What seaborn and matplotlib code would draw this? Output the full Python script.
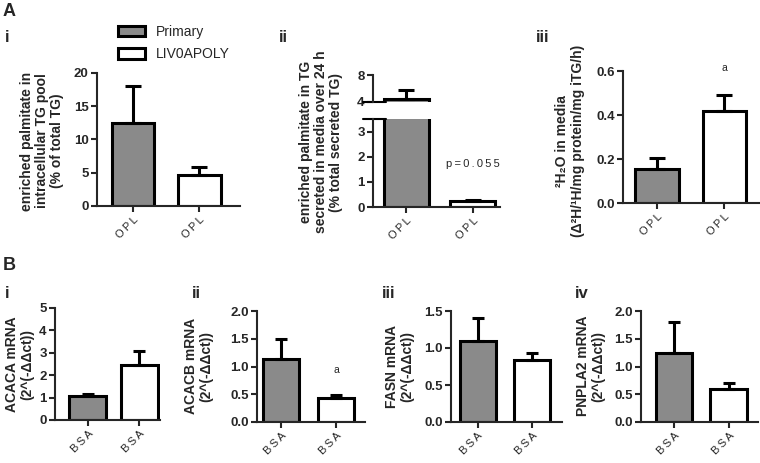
import numpy as np
import matplotlib
matplotlib.use("Agg")
import matplotlib.pyplot as plt
import seaborn as sns

groups = ["Primary", "LIV0APOLY"]
colors = ["#8a8a8a", "white"]

# panel A
a1_mean = [12.5, 4.7]
a1_err = [5.5, 1.1]
a2_mean = [4.5, 0.25]
a2_err = [1.35, 0.03]
a3_mean = [0.155, 0.42]
a3_err = [0.05, 0.07]
a_ticks = ["OPL", "OPL"]

# panel B
acaca_mean = [1.05, 2.45]
acaca_err = [0.12, 0.65]
acacb_mean = [1.13, 0.44]
acacb_err = [0.37, 0.04]
fasn_mean = [1.10, 0.84]
fasn_err = [0.30, 0.09]
pnpla2_mean = [1.25, 0.60]
pnpla2_err = [0.55, 0.10]
b_ticks = ["BSA", "BSA"]

sns.set_style("ticks")
plt.rcParams["font.family"] = ["Liberation Sans", "DejaVu Sans"]
plt.rcParams["axes.linewidth"] = 1.5

W, H = 760, 463
fig = plt.figure(figsize=(W / 100, H / 100), dpi=100)


def make_ax(left, right, top, bottom):
    return fig.add_axes([left / W, 1 - bottom / H, (right - left) / W, (bottom - top) / H])


def spaced(s):
    return "\u2009".join(s)


def draw_bars(ax, mean, err, width, capsize, xlim, ylim, yticks, ticklabels, fmt="{:g}"):
    sns.barplot(x=groups, y=mean, hue=groups, palette=colors, order=groups,
                hue_order=groups, edgecolor="black", linewidth=2.2, width=width,
                legend=False, ax=ax)
    ax.errorbar([0, 1], mean, yerr=[[0, 0], err], fmt="none", ecolor="black",
                elinewidth=2.2, capsize=capsize, capthick=2.2, zorder=1)
    ax.set_xlim(*xlim)
    ax.set_ylim(*ylim)
    ax.set_yticks(yticks)
    ax.set_yticklabels([fmt.format(v) for v in yticks], fontweight="bold", fontsize=9.5)
    ax.set_xticks([0, 1])
    ax.set_xticklabels([spaced(t) for t in ticklabels], rotation=45, ha="right",
                       rotation_mode="anchor", fontsize=8)
    ax.set_xlabel("")
    ax.set_ylabel("")
    ax.tick_params(direction="out", length=4, width=1.5, pad=2)
    sns.despine(ax=ax)


# A i
ax1 = make_ax(97, 240, 73, 206)
draw_bars(ax1, a1_mean, a1_err, 0.65, 6, (-0.545, 1.62), (0, 20), [0, 5, 10, 15, 20], a_ticks)

# A ii (broken axis)
ax2u = make_ax(373, 500, 75, 102)
ax2l = make_ax(373, 500, 119, 207)
draw_bars(ax2u, a2_mean, a2_err, 0.67, 6, (-0.5, 1.41), (4, 8), [4, 8], a_ticks)
draw_bars(ax2l, a2_mean, a2_err, 0.67, 6, (-0.5, 1.41), (0, 3.5), [0, 1, 2, 3], a_ticks)
ax2u.spines["bottom"].set_visible(False)
ax2u.tick_params(axis="x", bottom=False, labelbottom=False)
for a, yy in [(ax2u, 0), (ax2l, 1)]:
    a.plot([-0.08, 0.1], [yy, yy], transform=a.transAxes, color="black", lw=1.5, clip_on=False)
ax2l.text(1.0, 1.7, spaced("p=0.055"), ha="center", va="center", fontsize=8)

# A iii
ax3 = make_ax(623, 760, 71, 203)
draw_bars(ax3, a3_mean, a3_err, 0.65, 6, (-0.51, 1.53), (0, 0.6), [0, 0.2, 0.4, 0.6], a_ticks, "{:.1f}")
ax3.text(1, 0.615, "a", ha="center", va="center", fontsize=7.5)

# B
axb1 = make_ax(55, 160, 308, 420)
draw_bars(axb1, acaca_mean, acaca_err, 0.72, 4.5, (-0.64, 1.40), (0, 5), [0, 1, 2, 3, 4, 5], b_ticks)
axb2 = make_ax(257, 365, 311, 422)
draw_bars(axb2, acacb_mean, acacb_err, 0.66, 4.5, (-0.43, 1.52), (0, 2), [0, 0.5, 1, 1.5, 2], b_ticks, "{:.1f}")
axb2.text(1, 0.93, "a", ha="center", va="center", fontsize=7.5)
axb3 = make_ax(451, 562, 311, 422)
draw_bars(axb3, fasn_mean, fasn_err, 0.66, 4.5, (-0.49, 1.55), (0, 1.5), [0, 0.5, 1, 1.5], b_ticks, "{:.1f}")
axb4 = make_ax(641, 758, 311, 422)
draw_bars(axb4, pnpla2_mean, pnpla2_err, 0.67, 4.5, (-0.6, 1.53), (0, 2), [0, 0.5, 1, 1.5, 2], b_ticks, "{:.1f}")

# y labels
ylab = dict(rotation=90, ha="center", va="center", fontweight="bold", fontsize=10,
            multialignment="center", linespacing=1.1)
fig.text(42 / W, 1 - 141 / H, "enriched palmitate in\nintracellular TG pool\n(% of total TG)", **ylab)
fig.text(321 / W, 1 - 142 / H, "enriched palmitate in TG\nsecreted in media over 24 h\n(% total secreted TG)", **ylab)
fig.text(570 / W, 1 - 141 / H, "\u00b2H\u2082O in media\n(\u0394\u00b2H/\u00b9H/mg protein/mg iTG/h)", **ylab)
fig.text(20 / W, 1 - 364 / H, "ACACA mRNA\n(2^(-\u0394\u0394ct))", **ylab)
fig.text(199 / W, 1 - 366 / H, "ACACB mRNA\n(2^(-\u0394\u0394ct))", **ylab)
fig.text(400 / W, 1 - 366 / H, "FASN mRNA\n(2^(-\u0394\u0394ct))", **ylab)
fig.text(591 / W, 1 - 366 / H, "PNPLA2 mRNA\n(2^(-\u0394\u0394ct))", **ylab)

# panel letters
for s, x, y, fs in [("A", 3, 12, 13), ("i", 5, 37, 12), ("ii", 279, 37, 12), ("iii", 536, 37, 12),
                    ("B", 3, 266, 13), ("i", 5, 293, 12), ("ii", 192, 293, 12),
                    ("iii", 382, 293, 12), ("iv", 575, 293, 12)]:
    fig.text(x / W, 1 - y / H, s, ha="left", va="center", fontweight="bold", fontsize=fs)

# legend
handles = [ax1.patches[0], ax1.patches[1]]
fig.legend(handles, groups, loc="upper left",
           bbox_to_anchor=(118 / W, 1 - 25 / H), frameon=False, fontsize=10,
           handlelength=1.95, handleheight=0.75, labelspacing=0.6, borderpad=0,
           borderaxespad=0, handletextpad=0.8)

fig.savefig("out.png", dpi=100)
